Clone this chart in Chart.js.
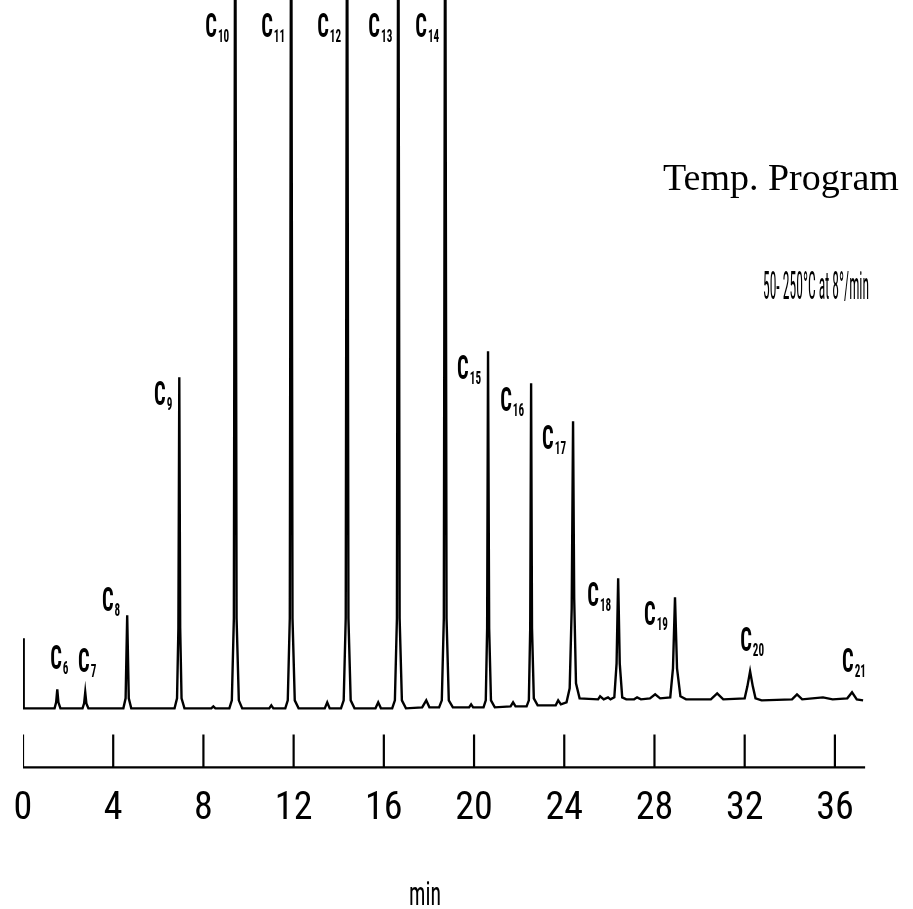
<!DOCTYPE html>
<html>
<head>
<meta charset="utf-8">
<script src="https://cdn.jsdelivr.net/npm/chart.js@4.4.1/dist/chart.umd.min.js"></script>
<style>
  html, body { margin: 0; padding: 0; background: #fff; }
  #wrap { width: 913px; height: 909px; }
</style>
</head>
<body>
<div id="wrap"><canvas id="chart"></canvas></div>
<script>
// retention time (min) and detector signal, baseline = 0
const tracePoints = [
  [0.00, 70], [0.03, 0],
  [1.40, 0], [1.47, 6], [1.52, 19], [1.57, 6], [1.66, 0],
  [2.64, 0], [2.71, 5], [2.76, 16], [2.81, 5], [2.90, 0],
  [4.45, 0], [4.55, 10], [4.62, 93], [4.69, 10], [4.80, 0],
  [6.72, 0], [6.83, 10], [6.89, 80], [6.93, 331], [6.97, 80], [7.03, 10], [7.16, 0],
  [8.35, 0], [8.44, 2], [8.53, 0],
  [9.15, 0], [9.26, 8], [9.35, 90], [9.41, 900], [9.47, 90], [9.57, 8], [9.72, 0],
  [10.92, 0], [11.01, 3], [11.10, 0],
  [11.63, 0], [11.74, 8], [11.83, 90], [11.89, 900], [11.95, 90], [12.05, 8], [12.22, 0],
  [13.38, 0], [13.49, 6], [13.60, 0],
  [14.10, 0], [14.22, 8], [14.31, 90], [14.37, 900], [14.43, 90], [14.53, 8], [14.70, 0],
  [15.63, 0], [15.75, 6], [15.87, 0],
  [16.37, 0], [16.49, 8], [16.58, 90], [16.64, 900], [16.70, 90], [16.80, 8], [16.98, 0],
  [17.70, 1], [17.88, 8], [18.02, 1],
  [18.45, 1], [18.57, 8], [18.66, 90], [18.72, 900], [18.78, 90], [18.88, 8], [19.06, 1],
  [19.78, 1], [19.87, 4], [19.96, 1],
  [20.42, 1], [20.52, 8], [20.58, 80], [20.62, 357], [20.67, 80], [20.75, 8], [20.92, 1],
  [21.62, 2], [21.73, 6], [21.84, 2],
  [22.33, 2], [22.43, 8], [22.49, 80], [22.53, 325], [22.57, 80], [22.65, 10], [22.82, 3],
  [23.40, 3], [23.62, 3], [23.73, 8], [23.85, 4], [24.10, 6],
  [24.24, 20], [24.33, 100], [24.39, 287], [24.44, 110], [24.52, 25], [24.68, 10],
  [25.50, 9], [25.59, 12], [25.75, 9], [25.94, 11], [26.05, 9],
  [26.22, 11], [26.32, 45], [26.39, 130], [26.46, 45], [26.57, 11], [26.75, 9],
  [27.10, 9], [27.23, 11], [27.40, 9],
  [27.80, 10], [28.03, 14], [28.25, 10],
  [28.70, 11], [28.82, 40], [28.91, 111], [29.00, 40], [29.15, 12], [29.40, 9],
  [30.50, 9], [30.78, 15], [31.05, 9],
  [32.00, 10], [32.12, 22], [32.24, 37], [32.36, 22], [32.48, 10], [32.75, 8],
  [34.10, 9], [34.32, 14], [34.55, 9],
  [35.00, 10], [35.47, 11], [35.90, 9],
  [36.55, 10], [36.76, 16], [36.97, 9], [37.25, 8],
];

// n-alkane peaks: carbon number and retention time (min)
const carbonNumbers = [6, 7, 8, 9, 10, 11, 12, 13, 14, 15, 16, 17, 18, 19, 20, 21];
const peakTimes = [1.52, 2.76, 4.62, 6.93, 9.41, 11.89, 14.37, 16.64, 18.72, 20.62, 22.53, 24.39, 26.39, 28.91, 32.24, 36.76];

// time marker channel: a pulse every 4 min
const markerMinutes = [0, 4, 8, 12, 16, 20, 24, 28, 32, 36];
const markerLevel = -59;
const markerPulse = 33;
const markerEnd = 37.34;

const timeMin = 0;
const timeMax = 38;
const signalMin = -70;
const signalMax = 708;

const tracePts = tracePoints.map(([t, s]) => ({ x: t, y: s }));
const markerPts = [{ x: markerMinutes[0], y: markerLevel + markerPulse }];
markerMinutes.forEach((t) => {
  markerPts.push({ x: t, y: markerLevel }, { x: t, y: markerLevel + markerPulse }, { x: t, y: markerLevel });
});
markerPts.push({ x: markerEnd, y: markerLevel });

const condFam = "'Roboto Condensed', 'Liberation Sans', sans-serif";

function condText(ctx, text, x, y, size, sx, weight) {
  ctx.save();
  ctx.font = `${weight} ${size}px ${condFam}`;
  ctx.translate(x, y);
  ctx.scale(sx, 1);
  ctx.fillText(text, 0, 0);
  ctx.restore();
}

function condWidth(ctx, text, size, sx, weight) {
  ctx.save();
  ctx.font = `${weight} ${size}px ${condFam}`;
  const w = ctx.measureText(text).width * sx;
  ctx.restore();
  return w;
}

const annotations = {
  id: "annotations",
  afterDatasetsDraw(chart) {
    const { ctx, scales } = chart;
    const xs = scales.x;
    const ys = scales.y;
    ctx.save();
    ctx.fillStyle = "#000";
    ctx.textAlign = "left";
    ctx.textBaseline = "alphabetic";

    carbonNumbers.forEach((n, i) => {
      const t = peakTimes[i];
      let apex = 0;
      tracePoints.forEach(([pt, s]) => {
        if (Math.abs(pt - t) < 0.1 && s > apex) apex = s;
      });
      const px = xs.getPixelForValue(t);
      const py = ys.getPixelForValue(Math.min(apex, signalMax));
      const cW = condWidth(ctx, "C", 33, 0.62, "bold");
      const sub = String(n);
      const sW = condWidth(ctx, sub, 18, 0.62, "bold");
      const w = cW + 1 + sW;
      let left, base;
      if (apex > signalMax) {
        left = px - 6 - w;
        base = 14 + 23;
      } else if (apex < 60) {
        left = px + 2 - w / 2;
        base = py - 15 - 5;
      } else {
        left = px - 7 - w;
        base = py + 5 + 23 + (n === 8 ? -32 : 0);
      }
      condText(ctx, "C", left, base, 33, 0.62, "bold");
      condText(ctx, sub, left + cW + 1, base + 5, 18, 0.62, "bold");
    });

    ctx.font = "38px 'Liberation Serif', 'Times New Roman', serif";
    ctx.fillText("Temp. Program", 663, 190);

    const prog = "50- 250°C at 8°/min";
    const pW = condWidth(ctx, prog, 38, 1, "normal");
    condText(ctx, prog, 763, 299, 38, 106 / pW, "normal");

    const mW = condWidth(ctx, "min", 33, 1, "normal");
    condText(ctx, "min", 425 - 16, 905, 33, 32 / mW, "normal");
    ctx.restore();
  },
};

new Chart(document.getElementById("chart"), {
  type: "line",
  data: {
    datasets: [
      {
        label: "Detector signal",
        data: tracePts,
        borderColor: "#000",
        borderWidth: 2.4,
        pointRadius: 0,
        tension: 0,
        fill: false,
      },
      {
        label: "Time marker",
        data: markerPts,
        borderColor: "#000",
        borderWidth: 2.2,
        pointRadius: 0,
        tension: 0,
        fill: false,
      },
    ],
  },
  options: {
    responsive: true,
    maintainAspectRatio: false,
    animation: false,
    layout: {
      padding: { left: 23, right: 33, top: 0, bottom: 69 },
    },
    plugins: {
      legend: { display: false },
      tooltip: { enabled: false },
    },
    scales: {
      x: {
        type: "linear",
        min: timeMin,
        max: timeMax,
        afterBuildTicks: (scale) => {
          scale.ticks = markerMinutes.map((v) => ({ value: v }));
        },
        grid: { display: false, drawTicks: false },
        border: { display: false },
        ticks: {
          padding: 8,
          color: "#000",
          font: { family: condFam, size: 38 },
          maxRotation: 0,
        },
      },
      y: {
        display: false,
        min: signalMin,
        max: signalMax,
      },
    },
  },
  plugins: [annotations],
});
</script>
</body>
</html>
